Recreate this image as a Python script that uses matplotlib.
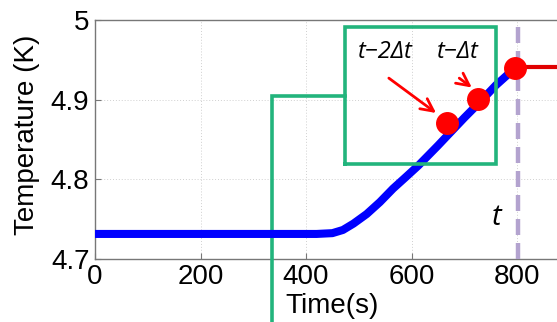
import matplotlib
matplotlib.use("Agg")
import matplotlib.pyplot as plt

# ---- data ----
time_s = [0, 300, 420, 450, 470, 490, 515, 540, 565, 590, 613, 650, 700, 727, 760, 797]
temp_k = [4.731, 4.731, 4.731, 4.732, 4.736, 4.744, 4.756, 4.771, 4.788, 4.803,
          4.817, 4.842, 4.877, 4.895, 4.918, 4.940]
future_time = [800, 900]
future_temp = [4.941, 4.941]
dot_time = [668, 727, 797]
dot_temp = [4.870, 4.901, 4.940]
dot_labels = ["t\u22122\u0394t", "t\u2212\u0394t", "t"]
t_now = 802
xticks = [0, 200, 400, 600, 800]
yticks = [4.7, 4.8, 4.9, 5.0]
ytick_labels = ["4.7", "4.8", "4.9", "5"]
xlabel = "Time(s)"
ylabel = "Temperature (K)"
# bracket / box (data coords)
bracket_x = 334.6
bracket_y = 4.904
box_x = [474, 760]
box_y = [4.8185, 4.9916]

plt.rcParams['font.family'] = ['Liberation Sans', 'DejaVu Sans']

W, H = 557, 322
fig = plt.figure(figsize=(W / 100, H / 100), dpi=100)
ax = fig.add_axes([95 / W, (H - 258.6) / H, 900 * 0.5275 / W, (258.6 - 20) / H])
ax.set_xlim(0, 900)
ax.set_ylim(4.7, 5.0)

ax.grid(True, linestyle=(0, (1, 2)), color='#d0d0d0', linewidth=0.7)
ax.set_axisbelow(True)

green = '#22b47c'
# L-shaped bracket reaching outside the axes
ax.plot([bracket_x, bracket_x, box_x[0]], [4.5, bracket_y, bracket_y],
        color=green, lw=2.6, clip_on=False, zorder=3, solid_joinstyle='miter')
# blue curve
ax.plot(time_s, temp_k, color='#0000ff', lw=5.8, zorder=4, solid_capstyle='butt')
# box
ax.plot([box_x[0], box_x[1], box_x[1], box_x[0], box_x[0]],
        [box_y[0], box_y[0], box_y[1], box_y[1], box_y[0]],
        color=green, lw=2.6, clip_on=False, zorder=5, solid_joinstyle='miter')
# red future line
ax.plot(future_time, future_temp, color='#e00000', lw=3, zorder=4, clip_on=False)
# dashed purple line at t
ax.axvline(t_now, color='#b3a3cf', lw=3.2, dashes=(3.6, 1.8), zorder=3)
# red dots
ax.plot(dot_time, dot_temp, 'o', color='#ff0000', ms=15.5, zorder=6)

# labels for the dots
tfam = ['Open Sans', 'DejaVu Sans']
ax.text(550, 4.960, dot_labels[0], fontsize=17, style='italic',
        family=tfam, ha='center', va='center', zorder=7)
ax.text(687, 4.960, dot_labels[1], fontsize=17, style='italic',
        family=tfam, ha='center', va='center', zorder=7)
ax.text(761.5, 4.752, dot_labels[2], fontsize=21, style='italic',
        family=tfam, ha='center', va='center', zorder=7)

arrow = dict(arrowstyle='->,head_length=0.9,head_width=0.45', color='#ff0000', lw=2)
ax.annotate('', xy=(650.8, 4.881), xytext=(552.8, 4.929), arrowprops=arrow, zorder=7)
ax.annotate('', xy=(718.5, 4.913), xytext=(686.3, 4.929), arrowprops=arrow, zorder=7)

ax.set_xticks(xticks)
ax.set_yticks(yticks)
ax.set_yticklabels(ytick_labels)
ax.tick_params(direction='in', length=4, color='#777777', labelsize=20, pad=4)
for s in ax.spines.values():
    s.set_color('#777777')
    s.set_linewidth(1.0)

ax.set_xlabel(xlabel, fontsize=20)
ax.set_ylabel(ylabel, fontsize=20)
ax.xaxis.set_label_coords(0.5, -0.145)
ax.yaxis.set_label_coords(-0.115, 0.52)

fig.savefig("out.png", dpi=100)
